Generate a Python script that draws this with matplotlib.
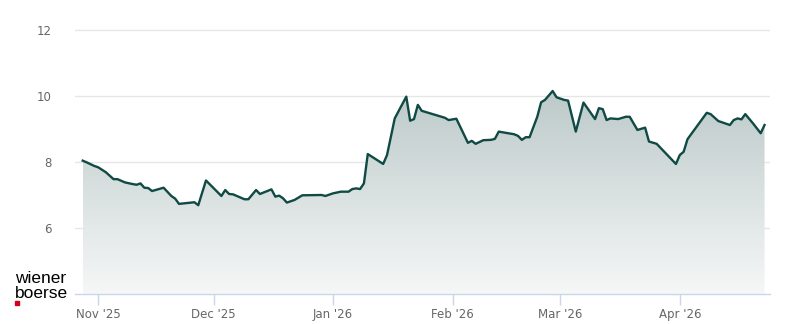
import matplotlib
matplotlib.use("Agg")
import matplotlib.pyplot as plt
import matplotlib.dates as mdates
import numpy as np
import pandas as pd
from matplotlib.patches import Polygon

dates = ["2025-10-28", "2025-10-29", "2025-10-31", "2025-11-01", "2025-11-03", "2025-11-05",
         "2025-11-06", "2025-11-08", "2025-11-10", "2025-11-11", "2025-11-12", "2025-11-13",
         "2025-11-14", "2025-11-15", "2025-11-18", "2025-11-20", "2025-11-21", "2025-11-22",
         "2025-11-26", "2025-11-27", "2025-11-29", "2025-12-03", "2025-12-04", "2025-12-05",
         "2025-12-06", "2025-12-09", "2025-12-10", "2025-12-12", "2025-12-13", "2025-12-16",
         "2025-12-17", "2025-12-18", "2025-12-19", "2025-12-20", "2025-12-22", "2025-12-24",
         "2025-12-29", "2025-12-30", "2026-01-01", "2026-01-03", "2026-01-05", "2026-01-06",
         "2026-01-07", "2026-01-08", "2026-01-09", "2026-01-10", "2026-01-14", "2026-01-15",
         "2026-01-17", "2026-01-20", "2026-01-21", "2026-01-22", "2026-01-23", "2026-01-24",
         "2026-01-30", "2026-01-31", "2026-02-02", "2026-02-05", "2026-02-06", "2026-02-07",
         "2026-02-09", "2026-02-11", "2026-02-12", "2026-02-13", "2026-02-17", "2026-02-18",
         "2026-02-19", "2026-02-20", "2026-02-21", "2026-02-23", "2026-02-24", "2026-02-25",
         "2026-02-27", "2026-02-28", "2026-03-02", "2026-03-03", "2026-03-05", "2026-03-07",
         "2026-03-10", "2026-03-11", "2026-03-12", "2026-03-13", "2026-03-14", "2026-03-16",
         "2026-03-18", "2026-03-19", "2026-03-21", "2026-03-23", "2026-03-24", "2026-03-26",
         "2026-03-31", "2026-04-01", "2026-04-02", "2026-04-03", "2026-04-08", "2026-04-09",
         "2026-04-11", "2026-04-14", "2026-04-15", "2026-04-16", "2026-04-17", "2026-04-18",
         "2026-04-20", "2026-04-22", "2026-04-23"]
prices = [8.04, 7.99, 7.88, 7.84, 7.69, 7.48,
          7.48, 7.38, 7.33, 7.31, 7.35, 7.22,
          7.21, 7.12, 7.22, 6.97, 6.89, 6.73,
          6.78, 6.69, 7.44, 6.97, 7.15, 7.03,
          7.02, 6.87, 6.87, 7.15, 7.03, 7.17,
          6.95, 6.98, 6.90, 6.77, 6.85, 6.99,
          7.00, 6.97, 7.05, 7.10, 7.10, 7.18,
          7.20, 7.18, 7.35, 8.24, 7.94, 8.21,
          9.32, 9.98, 9.25, 9.30, 9.73, 9.55,
          9.34, 9.27, 9.31, 8.58, 8.64, 8.55,
          8.66, 8.67, 8.70, 8.92, 8.84, 8.79,
          8.67, 8.75, 8.75, 9.37, 9.81, 9.88,
          10.15, 9.96, 9.88, 9.86, 8.92, 9.80,
          9.30, 9.63, 9.60, 9.27, 9.32, 9.30,
          9.37, 9.37, 8.97, 9.04, 8.62, 8.55,
          7.94, 8.21, 8.31, 8.69, 9.49, 9.45,
          9.24, 9.12, 9.27, 9.32, 9.29, 9.45,
          9.17, 8.87, 9.12]
y_ticks = [6, 8, 10, 12]
x_tick_dates = ["2025-11-01", "2025-12-01", "2026-01-01", "2026-02-01", "2026-03-01", "2026-04-01"]
x_tick_labels = ["Nov '25", "Dec '25", "Jan '26", "Feb '26", "Mar '26", "Apr '26"]

W, H = 800, 324
fig = plt.figure(figsize=(W / 100, H / 100), dpi=100)
ax = fig.add_axes([75 / W, (H - 294) / H, (770 - 75) / W, (294 - 25) / H])

x = mdates.date2num(pd.to_datetime(dates))
y = np.array(prices)
ymin, ymax = 4, 12.15
ax.set_xlim(mdates.date2num(pd.Timestamp("2025-10-26")), mdates.date2num(pd.Timestamp("2026-04-24 10:00")))
ax.set_ylim(ymin, ymax)

# gradient fill under line
grad = np.linspace(0, 1, 256).reshape(-1, 1)
top = np.array([0.74, 0.79, 0.79])
bot = np.array([0.965, 0.97, 0.97])
img = top[None, None, :] * (1 - grad[:, :, None]) + bot[None, None, :] * grad[:, :, None]
im = ax.imshow(img, extent=[x[0], x[-1], ymin, y.max()], aspect="auto", zorder=1,
               origin="upper")
poly = Polygon(np.column_stack([np.r_[x[0], x, x[-1]], np.r_[ymin, y, ymin]]),
               closed=True, facecolor="none", edgecolor="none")
ax.add_patch(poly)
im.set_clip_path(poly)

ax.plot(x, y, color="#0f4a45", lw=1.7, zorder=3, solid_joinstyle="round")

for s in ["top", "right", "left"]:
    ax.spines[s].set_visible(False)
ax.spines["bottom"].set_color("#ccd6eb")
ax.spines["bottom"].set_linewidth(1)

ax.set_yticks(y_ticks)
ax.set_yticklabels([str(t) for t in y_ticks])
ax.yaxis.grid(True, color="#e6e6e6", lw=1)
ax.set_axisbelow(True)
ax.tick_params(axis="y", length=0, pad=17, labelcolor="#666666", labelsize=8.5)

ax.set_xticks(mdates.date2num(pd.to_datetime(x_tick_dates)))
ax.set_xticklabels(x_tick_labels)
ax.tick_params(axis="x", length=8, width=1, color="#ccd6eb", labelcolor="#666666",
               labelsize=8.5, pad=2)

logo_font = ["Liberation Sans", "DejaVu Sans"]
fig.text(15 / W, 1 - 283 / H, "wiener", fontsize=12.5, family=logo_font, color="#000000",
         ha="left", va="baseline")
fig.text(15 / W, 1 - 298 / H, "boerse", fontsize=12.5, family=logo_font, color="#000000",
         ha="left", va="baseline")
fig.patches.append(matplotlib.patches.Rectangle((15 / W, 1 - 305 / H), 4 / W, 4 / H,
                   transform=fig.transFigure, color="#d0021b", figure=fig))

fig.savefig("out.png", dpi=100)
